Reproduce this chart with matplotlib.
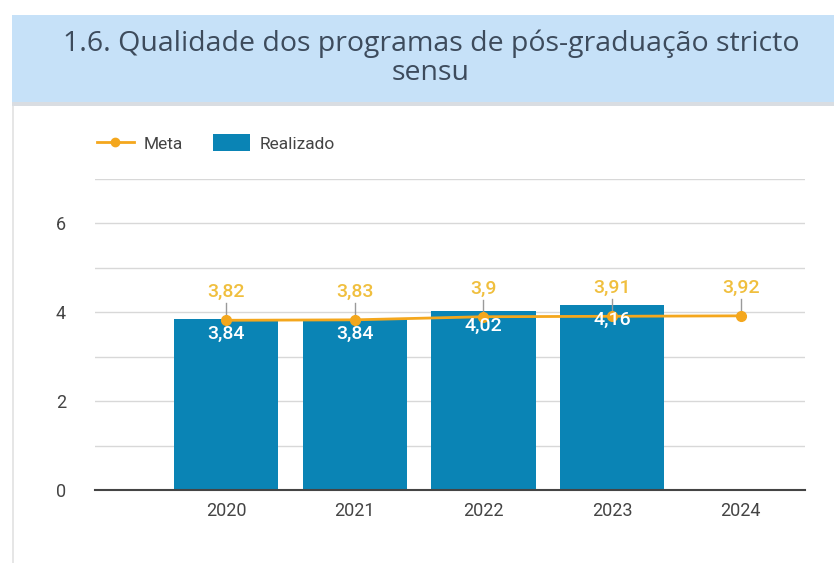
import matplotlib
matplotlib.use("Agg")
import matplotlib.pyplot as plt
from matplotlib.patches import Rectangle
from matplotlib.lines import Line2D
import numpy as np

years = ["2020", "2021", "2022", "2023", "2024"]
meta = [3.82, 3.83, 3.9, 3.91, 3.92]
realizado = [3.84, 3.84, 4.02, 4.16]
meta_labels = ["3,82", "3,83", "3,9", "3,91", "3,92"]
real_labels = ["3,84", "3,84", "4,02", "4,16"]
y_ticks = [0, 2, 4, 6]

W, H = 834, 563
fig = plt.figure(figsize=(W / 100, H / 100), dpi=100)
fig.patch.set_facecolor("white")

def px(x0, y0, w, h, **kw):
    fig.patches.append(Rectangle((x0 / W, 1 - (y0 + h) / H), w / W, h / H,
                                 transform=fig.transFigure, **kw))

# shadow + title band
px(12, 100, 822, 6, facecolor="#d9dde2", edgecolor="none", zorder=0)
px(12, 15, 822, 87, facecolor="#c6e1f8", edgecolor="none", zorder=1)
px(12, 106, 1.5, 457, facecolor="#e6e6e6", edgecolor="none", zorder=0)
fig.text(431 / W, 1 - 58 / H, "1.6. Qualidade dos programas de pós-graduação stricto\nsensu",
         ha="center", va="center", fontsize=20.5, family="Open Sans",
         color="#3d4b5c", linespacing=1.03)

ax = fig.add_axes([95 / W, 1 - 490 / H, 710 / W, (490 - 179) / H])
x = np.arange(len(years))
xr = np.arange(len(realizado))

bar_color = "#0a84b5"
line_color = "#f4a71d"
lab_color = "#f0bf3e"

ax.bar(xr, realizado, width=0.81, color=bar_color, zorder=2)
ax.plot(x, meta, color=line_color, lw=2, marker="o", ms=7, zorder=4)

for xi, v, t in zip(x, meta, meta_labels):
    ax.plot([xi, xi], [v + 0.06, v + 0.38], color="#9a9a9a", lw=1, zorder=3)
    ax.text(xi, v + 0.63, t, ha="center", va="center", color=lab_color,
            fontsize=14, family="Roboto", fontweight="medium", zorder=5)
for xi, v, t in zip(xr, realizado, real_labels):
    ax.text(xi, v - 0.33, t, ha="center", va="center", color="white",
            fontsize=14, family="Roboto", fontweight="medium", zorder=5)

ax.set_xlim(-1.02, 4.5)
ax.set_ylim(0, 7)
ax.set_yticks(np.arange(0, 8, 1))
ax.set_yticklabels([str(t) if t in y_ticks else "" for t in range(8)])
ax.set_xticks(x)
ax.set_xticklabels(years)
ax.tick_params(length=0, labelsize=13, colors="#444444")
ax.tick_params(axis="x", pad=9)
ax.tick_params(axis="y", pad=21)
for lab in ax.get_xticklabels() + ax.get_yticklabels():
    lab.set_family("Roboto")
ax.grid(axis="y", color="#d8d8d8", lw=1, zorder=0)
ax.set_axisbelow(True)
for s in ["top", "right", "left"]:
    ax.spines[s].set_visible(False)
ax.spines["bottom"].set_color("#444444")
ax.spines["bottom"].set_linewidth(1.5)
ax.spines["bottom"].set_zorder(3)

handles = [Line2D([0], [0], color=line_color, lw=2, marker="o", ms=6),
           Rectangle((0, 0), 1, 1, facecolor=bar_color)]
leg = fig.legend(handles, ["Meta", "Realizado"], loc="center left",
                 bbox_to_anchor=(81 / W, 1 - 143 / H), ncol=2, frameon=False,
                 prop={"family": "Roboto", "size": 12.5}, handlelength=2.13,
                 handleheight=1.1, columnspacing=1.75, handletextpad=0.55)
for t in leg.get_texts():
    t.set_color("#444444")

fig.savefig("out.png", dpi=100)
